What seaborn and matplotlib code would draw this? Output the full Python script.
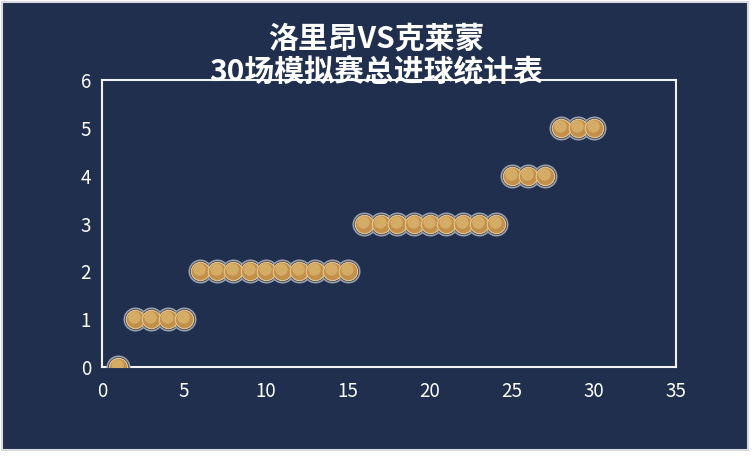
import matplotlib.pyplot as plt
import matplotlib.patches as mpatches
import pandas as pd
import seaborn as sns

# 数据：30场模拟赛的总进球数
games = list(range(1, 31))
goals = [0, 1, 1, 1, 1,
         2, 2, 2, 2, 2, 2, 2, 2, 2, 2,
         3, 3, 3, 3, 3, 3, 3, 3, 3,
         4, 4, 4,
         5, 5, 5]
title = "洛里昂VS克莱蒙\n30场模拟赛总进球统计表"
x_ticks = [0, 5, 10, 15, 20, 25, 30, 35]
y_ticks = [0, 1, 2, 3, 4, 5, 6]

BG = "#1f2f4d"

sns.set_theme(style="white")
plt.rcParams["font.family"] = ["Noto Sans CJK SC", "DejaVu Sans"]

df = pd.DataFrame({"场次": games, "总进球": goals})

fig = plt.figure(figsize=(7.52, 4.65), dpi=100, facecolor="#ffffff")
# 深色背景面板
fig.patches.append(mpatches.Rectangle((2 / 752, 15 / 465), 746 / 752, 448 / 465,
                                      transform=fig.transFigure, facecolor=BG,
                                      edgecolor="#d8dadf", lw=1.5, zorder=-1))
ax = fig.add_axes([102 / 752, 1 - 367 / 465, 574 / 752, 287 / 465])
ax.set_facecolor(BG)

# 外圈（灰色环）
sns.scatterplot(data=df, x="场次", y="总进球", s=260, color=BG,
                edgecolor="#9a9ea8", linewidth=1.2, ax=ax, zorder=3)
# 金色球
sns.scatterplot(data=df, x="场次", y="总进球", s=175, color="#c2904a",
                edgecolor="#e2c088", linewidth=0.9, ax=ax, zorder=4)
# 高光
ax.scatter(df["场次"] - 0.06, df["总进球"] + 0.04, s=80, color="#d9b26c",
           linewidths=0, zorder=5, alpha=0.85)

ax.set_xlim(0, 35)
ax.set_ylim(0, 6)
ax.set_xticks(x_ticks)
ax.set_yticks(y_ticks)
ax.set_xlabel("")
ax.set_ylabel("")
ax.tick_params(colors="white", labelsize=13.5, length=0)
ax.tick_params(axis="x", pad=10)
ax.tick_params(axis="y", pad=8)
for sp in ax.spines.values():
    sp.set_color("#f2f2f2")
    sp.set_linewidth(1.5)

fig.text(0.5, 1 - 55 / 465, title, ha="center", va="center", color="white",
         fontsize=21.5, fontweight="bold", linespacing=1.12)

fig.savefig("out.png", dpi=100, facecolor=fig.get_facecolor())
